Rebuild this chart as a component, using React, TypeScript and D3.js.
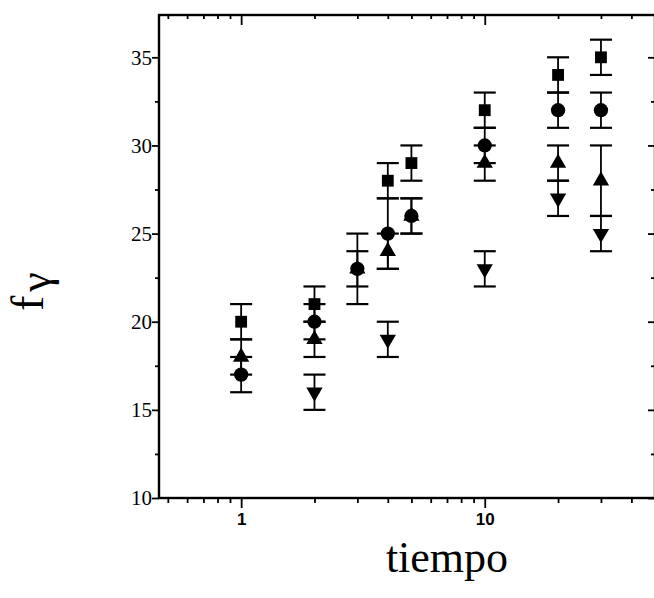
import React, { useRef, useEffect } from "react";
import * as d3 from "d3";

// tiempo (eje x, logaritmico) y valores de f gamma por serie
const tiempo = [1, 2, 3, 4, 5, 10, 20, 30];
const cuadrados = [20, 21, null, 28, 29, 32, 34, 35];
const circulos = [17, 20, 23, 25, 26, 30, 32, 32];
const triangulos = [18, 19, 23, 24, 26, 29, 29, 28];
const invertidos = [null, 16, null, 19, null, 23, 27, 25];

// barras de error (+/-)
const errCuadrados = [1, 1, null, 1, 1, 1, 1, 1];
const errCirculos = [1, 1, 2, 2, 1, 1, 1, 1];
const errTriangulos = [1, 1, 1, 1, 1, 1, 1, 2];
const errInvertidos = [null, 1, null, 1, null, 1, 1, 1];

const yMayores = [10, 15, 20, 25, 30, 35];
const yMenores = [12.5, 17.5, 22.5, 27.5, 32.5];
const xEtiquetas = [1, 10];

const App = () => {
  const svgRef = useRef(null);

  useEffect(() => {
    const svg = d3.select(svgRef.current);
    svg.selectAll("*").remove();

    const left = 159, right = 655, top = 15, bottom = 498;

    const x = d3.scaleLog().domain([0.46, 50]).range([left, right]);
    const y = d3.scaleLinear().domain([10, 37.4]).range([bottom, top]);

    const xMenores = x.ticks().filter((t) => !xEtiquetas.includes(t));

    // eje inferior: ticks hacia fuera
    const ejeInf = svg.append("g").attr("transform", `translate(0, ${bottom})`);
    ejeInf.append("g").call(d3.axisBottom(x).tickValues(xMenores).tickSize(5).tickFormat(() => ""));
    ejeInf
      .append("g")
      .call(d3.axisBottom(x).tickValues(xEtiquetas).tickSize(10).tickPadding(5).tickFormat(d3.format("d")));
    ejeInf
      .selectAll("text")
      .attr("font-family", "'Liberation Sans', Arial, sans-serif")
      .attr("font-size", 17)
      .attr("font-weight", "bold")
      .attr("fill", "black");

    // eje superior: ticks hacia dentro
    const ejeSup = svg.append("g").attr("transform", `translate(0, ${top})`);
    ejeSup.append("g").call(d3.axisBottom(x).tickValues(xMenores).tickSize(4).tickFormat(() => ""));
    ejeSup.append("g").call(d3.axisBottom(x).tickValues(xEtiquetas).tickSize(10).tickFormat(() => ""));

    // eje izquierdo
    const ejeIzq = svg.append("g").attr("transform", `translate(${left}, 0)`);
    ejeIzq.append("g").call(d3.axisLeft(y).tickValues(yMenores).tickSize(4).tickFormat(() => ""));
    ejeIzq.append("g").call(d3.axisLeft(y).tickValues(yMayores).tickSize(7).tickPadding(0));
    ejeIzq
      .selectAll("text")
      .attr("font-family", "'Liberation Serif', 'Times New Roman', serif")
      .attr("font-size", 21)
      .attr("fill", "black");

    // eje derecho (ticks hacia dentro)
    const ejeDer = svg.append("g").attr("transform", `translate(${right}, 0)`);
    ejeDer.append("g").call(d3.axisLeft(y).tickValues(yMenores).tickSize(4).tickFormat(() => ""));
    ejeDer.append("g").call(d3.axisLeft(y).tickValues(yMayores).tickSize(7).tickFormat(() => ""));

    svg.selectAll(".domain").remove();
    svg.selectAll(".tick line").attr("stroke", "black").attr("stroke-width", 1.8);

    svg
      .append("rect")
      .attr("x", left)
      .attr("y", top)
      .attr("width", right - left)
      .attr("height", bottom - top)
      .attr("fill", "none")
      .attr("stroke", "black")
      .attr("stroke-width", 2.4);

    const series = [
      { vals: cuadrados, errs: errCuadrados, sym: d3.symbolSquare, size: 140, rot: 0 },
      { vals: circulos, errs: errCirculos, sym: d3.symbolCircle, size: 160, rot: 0 },
      { vals: triangulos, errs: errTriangulos, sym: d3.symbolTriangle, size: 115, rot: 0 },
      { vals: invertidos, errs: errInvertidos, sym: d3.symbolTriangle, size: 115, rot: 180 },
    ];

    const capW = 11;
    const barras = svg.append("g").attr("stroke", "black").attr("stroke-width", 1.8);
    series.forEach((s) => {
      tiempo.forEach((t, i) => {
        const v = s.vals[i];
        const e = s.errs[i];
        if (v == null || e == null) return;
        const cx = x(t);
        barras.append("line").attr("x1", cx).attr("x2", cx).attr("y1", y(v - e)).attr("y2", y(v + e));
        [v - e, v + e].forEach((c) => {
          barras
            .append("line")
            .attr("x1", cx - capW)
            .attr("x2", cx + capW)
            .attr("y1", y(c))
            .attr("y2", y(c))
            .attr("stroke-width", 2.2);
        });
      });
    });

    const marcas = svg.append("g").attr("fill", "black");
    series.forEach((s) => {
      const path = d3.symbol().type(s.sym).size(s.size)();
      tiempo.forEach((t, i) => {
        const v = s.vals[i];
        if (v == null) return;
        marcas
          .append("path")
          .attr("d", path)
          .attr("transform", `translate(${x(t)}, ${y(v)}) rotate(${s.rot})`);
      });
    });

    // titulos de ejes
    svg
      .append("text")
      .attr("x", 447)
      .attr("y", 572)
      .attr("text-anchor", "middle")
      .attr("font-family", "'Liberation Serif', 'Times New Roman', serif")
      .attr("font-size", 44)
      .attr("fill", "black")
      .text("tiempo");

    const ylab = svg
      .append("text")
      .attr("transform", "translate(43, 311) rotate(-90)")
      .attr("font-family", "'Liberation Serif', 'Times New Roman', serif")
      .attr("font-size", 46)
      .attr("fill", "black");
    ylab.append("tspan").text("f");
    ylab.append("tspan").attr("dx", 4).attr("dy", 7).attr("font-size", 44).text("γ");
  }, []);

  return (
    <div style={{ position: "absolute", left: 0, top: 0, width: "654px", height: "598px", background: "white" }}>
      <svg ref={svgRef} width={654} height={598} style={{ display: "block" }}></svg>
    </div>
  );
};

export default App;
